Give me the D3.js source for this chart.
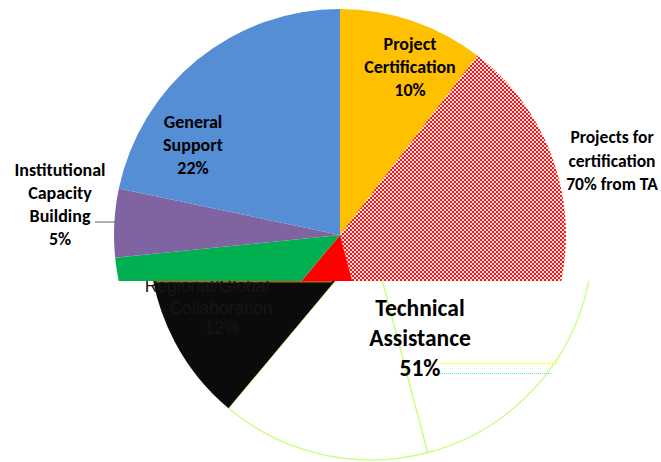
<!DOCTYPE html>
<html>
<head>
<meta charset="utf-8">
<script src="https://cdn.jsdelivr.net/npm/d3@7"></script>
<style>
  body { margin: 0; background: #fff; }
  svg { display: block; }
</style>
</head>
<body>
<svg id="drawing_region"></svg>
<script>
// slice data (percent of budget); TA 51% split 70/30
var categories = ["Project Certification", "Projects for certification", "Technical Assistance", "Regional/Global Collaboration", "Institutional Capacity Building", "General Support"];
var values = [10.4, 35.5, 15.2, 12.3, 4.9, 21.7];
var topColors = ["#FFC000", "url(#checker)", "#FF0000", "#00B050", "#8064A2", "#558ED5"];
var lowColors = ["none", "#ffffff", "#ffffff", "#0b0b0b", "none", "none"];

var width = 661;
var height = 462;
var cutY = 281;

var svg = d3.select('#drawing_region')
    .attr('width', width)
    .attr('height', height);

var defs = svg.append('defs');
var pat = defs.append('pattern')
    .attr('id', 'checker')
    .attr('width', 4).attr('height', 4)
    .attr('patternUnits', 'userSpaceOnUse');
pat.append('rect').attr('width', 4).attr('height', 4).attr('fill', '#ffe5e5');
pat.append('rect').attr('width', 2).attr('height', 2).attr('fill', '#FF1010')
    .attr('shape-rendering', 'crispEdges');
pat.append('rect').attr('x', 2).attr('y', 2).attr('width', 2).attr('height', 2).attr('fill', '#FF1010')
    .attr('shape-rendering', 'crispEdges');

defs.append('clipPath').attr('id', 'clipTop')
    .append('rect').attr('x', 0).attr('y', 0).attr('width', width).attr('height', cutY);
defs.append('clipPath').attr('id', 'clipLow')
    .append('rect').attr('x', 0).attr('y', cutY).attr('width', width).attr('height', height - cutY);

var pie = d3.pie().sort(null).value(d => d);

// upper part of the pie
var topR = 226;
var gTop = svg.append('g').attr('clip-path', 'url(#clipTop)')
    .append('g').attr('transform', 'translate(340,235)');
var arcTop = d3.arc().innerRadius(0).outerRadius(topR);
gTop.selectAll('path')
    .data(pie(values))
    .enter()
    .append('path')
    .attr('d', arcTop)
    .attr('fill', (d, i) => topColors[i]);

// lower (shifted) part of the pie
var lowR = 222;
var gLowClip = svg.append('g').attr('clip-path', 'url(#clipLow)');
var gLow = gLowClip.append('g').attr('transform', 'translate(371,238)');
var arcLow = d3.arc().innerRadius(0).outerRadius(lowR);
gLow.selectAll('path')
    .data(pie(values))
    .enter()
    .append('path')
    .attr('d', arcLow)
    .attr('fill', (d, i) => lowColors[i])
    .attr('stroke', (d, i) => (i == 1 || i == 2) ? '#c4ff70' : 'none')
    .style('stroke-width', '1.2px');

// orange seam on the black slice
gLowClip.append('line')
    .attr('x1', 153).attr('x2', 332)
    .attr('y1', cutY + 0.8).attr('y2', cutY + 0.8)
    .attr('stroke', '#c55a11')
    .style('stroke-width', '1.6px');

// faint label inside the black slice
var dark = gLowClip.append('g')
    .attr('fill', '#161616')
    .style('font-family', 'Liberation Sans, Arial, sans-serif')
    .style('font-size', '17.5px')
    .attr('text-anchor', 'middle');
dark.append('text').attr('x', 207).attr('y', 292).text('Regional/Global');
dark.append('text').attr('x', 221).attr('y', 314).text('Collaboration');
dark.append('text').attr('x', 222).attr('y', 334).text('12%');

// dotted connector lines
svg.append('line')
    .attr('x1', 440).attr('x2', 558).attr('y1', 363.5).attr('y2', 363.5)
    .attr('stroke', '#ffff00').style('stroke-width', '1.5px')
    .attr('stroke-dasharray', '1,1');
svg.append('line')
    .attr('x1', 440).attr('x2', 552).attr('y1', 373.5).attr('y2', 373.5)
    .attr('stroke', '#55e8d0').style('stroke-width', '1.2px')
    .attr('stroke-dasharray', '1,1');

// leader line for institutional capacity building
svg.append('line')
    .attr('x1', 95).attr('x2', 116).attr('y1', 222).attr('y2', 222)
    .attr('stroke', '#666').style('stroke-width', '1px');

function label(lines, x, y0, step, size) {
    var t = svg.append('text')
        .attr('text-anchor', 'middle')
        .style('font-family', 'Carlito, Lato, sans-serif')
        .style('font-weight', 'bold')
        .style('font-size', size + 'px')
        .attr('fill', '#000');
    lines.forEach((s, i) => {
        t.append('tspan').attr('x', x).attr('y', y0 + i * step).text(s);
    });
}

label(["Project", "Certification", "10%"], 410, 50, 23, 18);
label(["Projects for", "certification", "70% from TA"], 612, 143, 23.5, 17.5);
label(["General", "Support", "22%"], 193, 128, 23, 18);
label(["Institutional", "Capacity", "Building", "5%"], 60, 176, 23, 18);
label(["Technical", "Assistance", "51%"], 420, 316, 30, 23.5);
</script>
</body>
</html>
